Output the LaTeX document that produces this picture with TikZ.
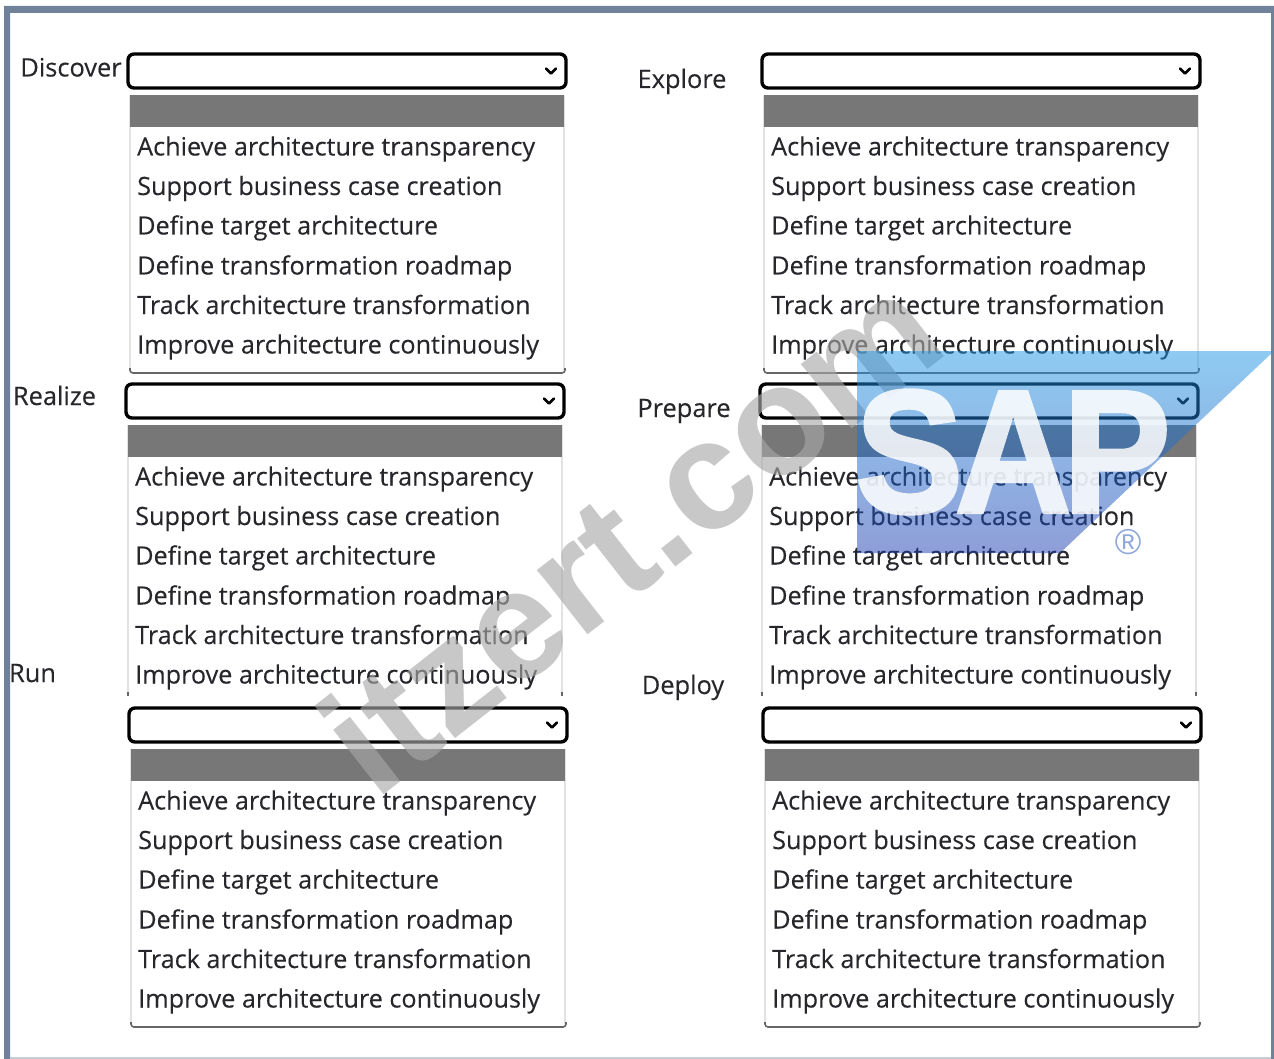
\documentclass[tikz,border=0pt]{standalone}
\usepackage{fontspec}
\setmainfont[FakeBold=0.2]{Open Sans}
\newfontfamily\logofont{Liberation Sans}
\newfontfamily\sapfont[BoldFeatures={FakeBold=2,FakeStretch=.92}]{Liberation Sans}
\definecolor{frameblue}{HTML}{6F8299}
\definecolor{bandgrey}{HTML}{777777}
\definecolor{linegrey}{HTML}{E2E2E2}
\definecolor{inkcol}{HTML}{26262B}
\definecolor{logotop}{HTML}{1F97E5}
\definecolor{logobot}{HTML}{1F3FB1}
\definecolor{regcol}{HTML}{8FA8DC}
\definecolor{wmgrey}{HTML}{A8A8A8}
\tikzset{
  x=1pt,y=-1pt,
  itemtext/.style={anchor=base west,inner sep=0pt,text=inkcol,font=\fontsize{25.2}{27}\selectfont},
  fieldlabel/.style={anchor=base,inner sep=0pt,text=inkcol,font=\fontsize{25.4}{27}\selectfont},
  selectbox/.style={draw=black,line width=3.4pt,rounded corners=6pt,fill=white,minimum width=438pt,minimum height=34pt,inner sep=0pt,outer sep=0pt},
  chevron/.style={draw=black,line width=2.6pt,line cap=round,line join=round},
  headband/.style={fill=bandgrey},
  listedge/.style={draw=linegrey,line width=1.2pt},
  listfoot/.style={draw=black!60,line width=1.6pt},
}
% #1 name, #2 x of box left, #3 y of box top, #4 end of the list's sides
\newcommand{\selectwidget}[4]{%
  \begin{scope}[shift={(#2,#3)}]
    \draw[listedge] (2,41) -- (2,#4) (436,41) -- (436,#4);
    \ifdim #4pt>310pt
      \draw[listfoot,rounded corners=3pt] (2,314) -- (2,319) -- (437,319) -- (437,314);
    \else
      \draw[listfoot] (2,#4) -- ++(0,4) (436,#4) -- ++(0,4);
    \fi
    \fill[headband] (2,41) rectangle (436,73);
    \node[selectbox] (#1box) at (219,17) {};
    \draw[chevron] (418,14.5) -- (423,19.5) -- (428,14.5);
    \node[itemtext] (#1a) at (9,101.5) {Achieve architecture transparency};
    \node[itemtext] (#1b) at (9,141) {Support business case creation};
    \node[itemtext] (#1c) at (9,180.5) {Define target architecture};
    \node[itemtext] (#1d) at (9,220.5) {Define transformation roadmap};
    \node[itemtext] (#1e) at (9,260) {Track architecture transformation};
    \node[itemtext] (#1f) at (9,299.5) {Improve architecture continuously};
  \end{scope}}
\begin{document}
\begin{tikzpicture}
\useasboundingbox (0,0) rectangle (1274,1059);
\fill[white] (0,0) rectangle (1274,1059);
\fill[frameblue] (4,1059) -- (4,6) -- (1274,6) -- (1274,1059) -- (1271,1059) -- (1271,13) -- (10,13) -- (10,1059) -- cycle;
\fill[frameblue!40] (10,1057) rectangle (1271,1059);
\selectwidget{dis}{128}{54}{316}
\selectwidget{exp}{762}{54}{316}
\selectwidget{rea}{126}{384}{308}
\selectwidget{pre}{760}{384}{308}
\selectwidget{run}{129}{708}{316}
\selectwidget{dep}{763}{708}{316}
\node[fieldlabel] (ldis) at (71,76.5) {Discover};
\node[fieldlabel] (lexp) at (682,88) {Explore};
\node[fieldlabel] (lrea) at (54.5,405) {Realize};
\node[fieldlabel] (lpre) at (684,417) {Prepare};
\node[fieldlabel] (lrun) at (32.5,682) {Run};
\node[fieldlabel] (ldep) at (683,694) {Deploy};
% watermark
\node[inner sep=0pt,rotate=38,opacity=.63,text=wmgrey,font=\logofont\bfseries\fontsize{155}{155}\selectfont] (wm) at (630,532) {itzert.com};
% logo
\begin{scope}
  \clip (857,351) -- (1274,351) -- (1060,553) -- (857,553) -- cycle;
  \foreach \i in {0,...,50} {
    \pgfmathsetmacro{\m}{2*\i}
    \fill[color=logobot!\m!logotop,opacity=.5] (857,351+4*\i) rectangle (1274,355+4*\i);
  }
\end{scope}
\begin{scope}[transparency group,opacity=.85]
\node[inner sep=0pt,text=white,font=\sapfont\bfseries\fontsize{175}{175}\selectfont] (sap) at (1013,452) {S\kern-8pt A\kern-8pt P};
\end{scope}
\node[inner sep=0pt,text=regcol,font=\logofont\fontsize{36}{36}\selectfont] (reg) at (1128,542) {®};
\end{tikzpicture}
\end{document}
